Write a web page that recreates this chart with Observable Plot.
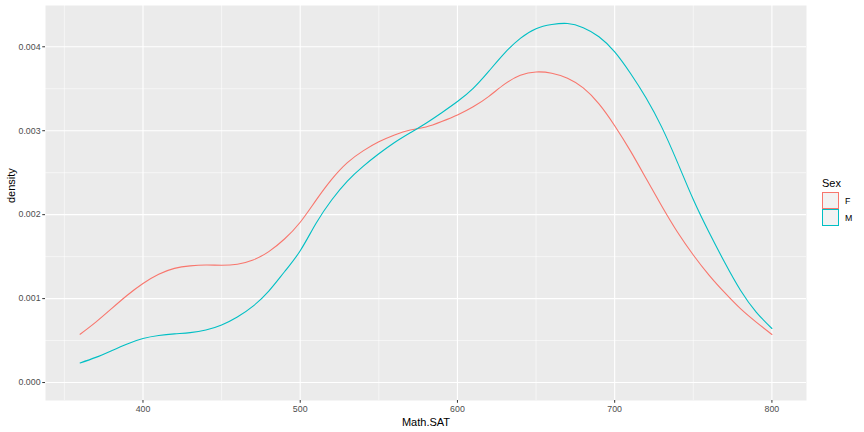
<!DOCTYPE html>
<html>
<head>
<meta charset="utf-8">
<script src="https://cdn.jsdelivr.net/npm/d3@7"></script>
<script src="https://cdn.jsdelivr.net/npm/@observablehq/plot@0.6"></script>
<style>
  html, body { margin: 0; padding: 0; background: white; }
  #wrap { position: relative; width: 864px; height: 432px; font-family: "Liberation Sans", Arial, sans-serif; }
  #legend { position: absolute; left: 822px; top: 175px; color: #000; }
  #legend .title { font-size: 11px; height: 17px; line-height: 16px; }
  #legend .row { display: flex; align-items: center; height: 17px; }
  #legend .key { width: 15px; height: 15px; background: #F2F2F2; margin-right: 6px; }
  #legend .lab { font-size: 8.8px; }
</style>
</head>
<body>
<div id="wrap"><div id="chart"></div><div id="legend"></div></div>
<script>
const mathSAT = [360,370,380,390,400,410,420,430,440,450,460,470,480,490,500,510,520,530,540,550,560,570,580,590,600,610,620,630,640,650,660,670,680,690,700,710,720,730,740,750,760,770,780,790,800];
const densityF = [0.575,0.72,0.88,1.04,1.18,1.29,1.36,1.39,1.40,1.398,1.41,1.46,1.56,1.71,1.91,2.17,2.42,2.62,2.76,2.868,2.95,3.008,3.045,3.11,3.188,3.285,3.41,3.555,3.66,3.70,3.685,3.625,3.51,3.32,3.06,2.76,2.43,2.10,1.79,1.52,1.28,1.07,0.88,0.72,0.573];
const densityM = [0.234,0.30,0.38,0.46,0.524,0.56,0.58,0.595,0.625,0.685,0.78,0.91,1.09,1.32,1.57,1.895,2.175,2.40,2.575,2.725,2.86,2.976,3.09,3.215,3.348,3.505,3.71,3.925,4.10,4.215,4.265,4.278,4.228,4.12,3.94,3.685,3.39,3.04,2.62,2.18,1.79,1.43,1.10,0.84,0.644];
const sexes = ["F", "M"];
const colors = ["#F8766D", "#00BFC4"];
const xMajor = [400, 500, 600, 700, 800];
const xMinor = [350, 450, 550, 650, 750];
const yMajor = [0, 0.001, 0.002, 0.003, 0.004];
const yMinor = [0.0005, 0.0015, 0.0025, 0.0035];

const data = [];
mathSAT.forEach((x, i) => {
  data.push({Sex: "F", x, y: densityF[i] / 1000});
  data.push({Sex: "M", x, y: densityM[i] / 1000});
});

const xr = d3.extent(mathSAT);
const xpad = (xr[1] - xr[0]) * 0.05;
const ymax = d3.max(data, d => d.y);
const ypad = ymax * 0.05;

const chart = Plot.plot({
  width: 864,
  height: 432,
  marginLeft: 45,
  marginRight: 58,
  marginTop: 5,
  marginBottom: 32,
  style: {fontFamily: "'Liberation Sans', Arial, sans-serif", background: "white"},
  x: {domain: [xr[0] - xpad, xr[1] + xpad]},
  y: {domain: [-ypad, ymax + ypad]},
  color: {domain: sexes, range: colors},
  marks: [
    Plot.frame({fill: "#EBEBEB", stroke: null}),
    Plot.gridX(xMinor, {stroke: "white", strokeOpacity: 1, strokeWidth: 0.55}),
    Plot.gridY(yMinor, {stroke: "white", strokeOpacity: 1, strokeWidth: 0.55}),
    Plot.gridX(xMajor, {stroke: "white", strokeOpacity: 1, strokeWidth: 1.1}),
    Plot.gridY(yMajor, {stroke: "white", strokeOpacity: 1, strokeWidth: 1.1}),
    Plot.axisX(xMajor, {tickSize: 2.75, tickPadding: 2.2, fontSize: 8.8, stroke: "#333333", fill: "#4D4D4D", label: null}),
    Plot.axisY(yMajor, {tickSize: 2.75, tickPadding: 2.2, fontSize: 8.8, stroke: "#333333", fill: "#4D4D4D", label: null, tickFormat: d3.format(".3f")}),
    Plot.line(data, {x: "x", y: "y", stroke: "Sex", z: "Sex", strokeWidth: 1.1, curve: "natural"}),
    Plot.text(["Math.SAT"], {text: d => d, frameAnchor: "bottom", lineAnchor: "middle", dy: 22, fontSize: 11, fill: "black"}),
    Plot.text(["density"], {text: d => d, frameAnchor: "left", lineAnchor: "middle", rotate: -90, dx: -34, fontSize: 11, fill: "black"})
  ]
});
document.getElementById("chart").appendChild(chart);

const legend = document.getElementById("legend");
const t = document.createElement("div");
t.className = "title";
t.textContent = "Sex";
legend.appendChild(t);
sexes.forEach((s, i) => {
  const row = document.createElement("div");
  row.className = "row";
  const key = document.createElement("div");
  key.className = "key";
  key.style.border = "1px solid " + colors[i];
  const lab = document.createElement("span");
  lab.className = "lab";
  lab.textContent = s;
  row.appendChild(key);
  row.appendChild(lab);
  legend.appendChild(row);
});
</script>
</body>
</html>
